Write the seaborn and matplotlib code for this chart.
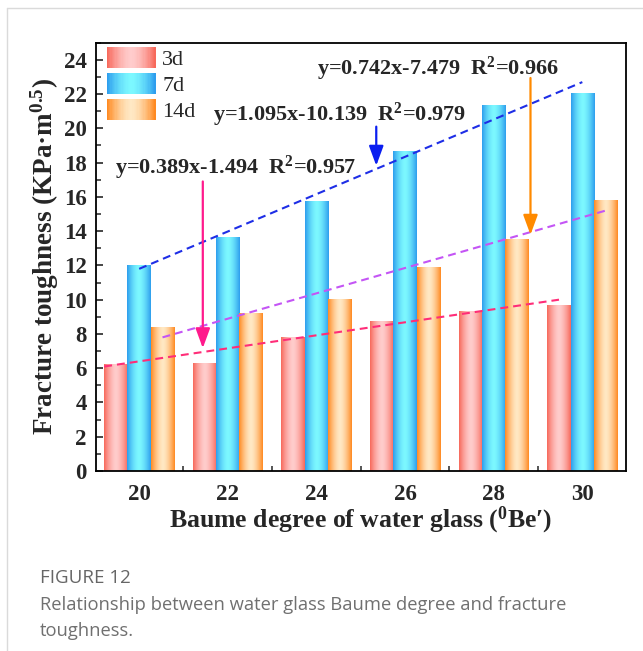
import numpy as np
import pandas as pd
import matplotlib
matplotlib.use("Agg")
import matplotlib.pyplot as plt
import seaborn as sns
from matplotlib.patches import Rectangle
from matplotlib.legend_handler import HandlerBase
from matplotlib.colors import to_rgb
from matplotlib.lines import Line2D
from matplotlib.ticker import MultipleLocator, FixedLocator

# ---------------- data ----------------
baume = ["20", "22", "24", "26", "28", "30"]
ages = ["3d", "7d", "14d"]
toughness_3d = [6.19, 6.29, 7.79, 8.74, 9.30, 9.64]
toughness_7d = [11.97, 13.63, 15.75, 18.63, 21.36, 22.06]
toughness_14d = [8.35, 9.19, 9.99, 11.87, 13.49, 15.77]

# linear fit lines (value at first and last group)
trend_3d = [6.1, 10.0]
trend_7d = [11.8, 22.7]
trend_14d = [7.8, 15.2]
fit_labels = ["y=0.389x-1.494  R$^{\\mathbf{2}}$=0.957",
              "y=1.095x-10.139  R$^{\\mathbf{2}}$=0.979",
              "y=0.742x-7.479  R$^{\\mathbf{2}}$=0.966"]

# ---------------- style ----------------
sns.set_style("ticks")
plt.rcParams["font.family"] = ["Liberation Serif", "DejaVu Serif"]
plt.rcParams["mathtext.fontset"] = "custom"
plt.rcParams["mathtext.rm"] = "Liberation Serif"
plt.rcParams["mathtext.bf"] = "Liberation Serif:bold"
plt.rcParams["mathtext.it"] = "Liberation Serif:italic"

edge_cols = {"3d": "#F7695B", "7d": "#2E9EEE", "14d": "#FF8A22"}
center_cols = {"3d": "#FFCCCC", "7d": "#7CF8FF", "14d": "#FFE8C4"}
line_cols = {"3d": "#FF2D78", "7d": "#1E2EE6", "14d": "#C455F5"}
arrow_cols = {"3d": "#FF1A8C", "7d": "#0A1EF0", "14d": "#FF8A00"}


def gradient(edge, center, n=64):
    t = np.linspace(0, 1, n)
    w = 1 - np.abs(2 * t - 1) ** 1.6
    e = np.array(to_rgb(edge))
    c = np.array(to_rgb(center))
    return e[None, :] * (1 - w[:, None]) + c[None, :] * w[:, None]


df = pd.DataFrame({
    "baume": baume * 3,
    "age": ["3d"] * 6 + ["7d"] * 6 + ["14d"] * 6,
    "value": toughness_3d + toughness_7d + toughness_14d,
})

W, H = 643, 651
fig = plt.figure(figsize=(W / 100, H / 100), dpi=100)
ax = fig.add_axes([96 / W, 1 - 471 / H, (625.5 - 96) / W, (471 - 42.7) / H])

sns.barplot(data=df, x="baume", y="value", hue="age", hue_order=ages,
            palette=edge_cols, width=0.79, saturation=1, ax=ax,
            legend=False, errorbar=None)

centers = {}
for age, cont in zip(ages, ax.containers):
    cols = gradient(edge_cols[age], center_cols[age])
    xs = []
    for bar in cont:
        x0, w, h = bar.get_x(), bar.get_width(), bar.get_height()
        ax.imshow(cols[None, :, :], extent=[x0, x0 + w, 0, h], aspect="auto",
                  interpolation="bilinear", zorder=2)
        bar.set_facecolor("none")
        bar.set_edgecolor("none")
        xs.append((x0, x0 + w / 2))
    centers[age] = xs

# trend lines
dash = (0, (3.8, 2.4))
ax.plot([centers["3d"][0][0], centers["3d"][-1][1]], trend_3d,
        color=line_cols["3d"], lw=1.5, ls=dash, zorder=4)
ax.plot([centers["7d"][0][1], centers["7d"][-1][1]], trend_7d,
        color=line_cols["7d"], lw=1.5, ls=dash, zorder=4)
ax.plot([centers["14d"][0][1], centers["14d"][-1][1]], trend_14d,
        color=line_cols["14d"], lw=1.5, ls=dash, zorder=4)

# arrows
arrow_style = "-|>,head_length=0.6,head_width=0.22"
ax.annotate("", xy=(0.718, 7.17), xytext=(0.718, 16.9),
            arrowprops=dict(arrowstyle=arrow_style, color=arrow_cols["3d"], lw=1.6,
                            mutation_scale=20, shrinkA=0, shrinkB=0), zorder=5)
ax.annotate("", xy=(2.675, 17.82), xytext=(2.675, 20.1),
            arrowprops=dict(arrowstyle=arrow_style, color=arrow_cols["7d"], lw=1.6,
                            mutation_scale=20, shrinkA=0, shrinkB=0), zorder=5)
ax.annotate("", xy=(4.415, 13.79), xytext=(4.415, 22.94),
            arrowprops=dict(arrowstyle=arrow_style, color=arrow_cols["14d"], lw=1.6,
                            mutation_scale=20, shrinkA=0, shrinkB=0), zorder=5)

# fit equations
txt_kw = dict(fontsize=16, fontweight="bold", ha="left", va="center", zorder=6)
ax.text(-0.271, 17.68, fit_labels[0], **txt_kw)
ax.text(0.835, 20.79, fit_labels[1], **txt_kw)
ax.text(2.008, 23.46, fit_labels[2], **txt_kw)

# axes formatting
ax.set_xlim(-0.487, 5.487)
ax.set_ylim(0, 25)
ax.yaxis.set_major_locator(MultipleLocator(2))
ax.yaxis.set_minor_locator(MultipleLocator(1))
ax.xaxis.set_minor_locator(FixedLocator([0.5, 1.5, 2.5, 3.5, 4.5]))
ax.tick_params(axis="both", which="major", direction="in", length=5, width=1.2,
               labelsize=16.5, pad=6.5)
ax.tick_params(axis="both", which="minor", direction="in", length=3.5, width=1.1)
ax.tick_params(axis="x", which="major", pad=9)
for lab in ax.get_xticklabels() + ax.get_yticklabels():
    lab.set_fontweight("bold")
for sp in ax.spines.values():
    sp.set_visible(True)
    sp.set_linewidth(1.3)
    sp.set_color("black")
ax.set_xlabel("Baume degree of water glass ($^{\\mathbf{0}}$Be′)",
              fontsize=18.5, fontweight="bold", labelpad=0)
ax.set_ylabel("Fracture toughness (KPa·m$^{\\mathbf{0.5}}$)",
              fontsize=19.5, fontweight="bold", labelpad=2)


# legend with gradient handles
class GradientHandler(HandlerBase):
    def __init__(self, edge, center):
        super().__init__()
        self.edge, self.center = edge, center

    def create_artists(self, legend, orig_handle, xdescent, ydescent, width,
                       height, fontsize, trans):
        n = 40
        cols = gradient(self.edge, self.center, n)
        arts = []
        for i, c in enumerate(cols):
            arts.append(Rectangle((-xdescent + i * width / n, -ydescent),
                                  width / n * 1.08, height, facecolor=c,
                                  edgecolor="none", transform=trans))
        return arts


handles = [Rectangle((0, 0), 1, 1) for _ in ages]
hmap = {h: GradientHandler(edge_cols[a], center_cols[a]) for h, a in zip(handles, ages)}
leg_fs = 16
leg = ax.legend(handles, ages, handler_map=hmap, loc="upper left",
                bbox_to_anchor=(10.7 / 529.5, 1 - 4.6 / 428.3), frameon=False,
                borderaxespad=0, borderpad=0, handlelength=49 / (leg_fs * 100 / 72),
                handleheight=24 / (leg_fs * 100 / 72),
                labelspacing=0.12, handletextpad=0.3,
                prop={"family": "Liberation Serif", "size": leg_fs})

# page frame lines and caption
fig.add_artist(Line2D([7 / W, 1], [1 - 8 / H, 1 - 8 / H], color="#dadada", lw=1))
fig.add_artist(Line2D([7 / W, 7 / W], [0, 1 - 8 / H], color="#dadada", lw=1))
fig.text(40 / W, 1 - 578 / H, "FIGURE 12", family="Open Sans", fontsize=13.5,
         color="#666666", va="center", ha="left")
fig.text(40 / W, 1 - 605 / H,
         "Relationship between water glass Baume degree and fracture",
         family="Open Sans", fontsize=13.2, color="#707070", va="center", ha="left")
fig.text(40 / W, 1 - 631 / H, "toughness.", family="Open Sans", fontsize=13.2,
         color="#707070", va="center", ha="left")

fig.savefig("out.png", dpi=100)
